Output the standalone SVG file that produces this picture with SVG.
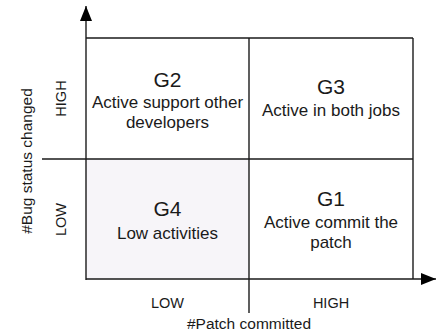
<svg xmlns="http://www.w3.org/2000/svg" width="437" height="334" viewBox="0 0 437 334">
<defs>
<style>
.ln{stroke:#1a1a1a;stroke-width:1.4;fill:none}
.t{font-family:"Liberation Sans",Arial,Helvetica,sans-serif;fill:#1a1a1a;text-anchor:middle}
.g{font-size:21px}
.b{font-size:17px}
.a{font-size:14.5px}
.ax{font-size:15.5px}
</style>
<marker id="ah" markerWidth="16" markerHeight="12" refX="15" refY="6" orient="auto" markerUnits="userSpaceOnUse">
<path d="M0,0 L15,6 L0,12 Z" fill="#000"/>
</marker>
</defs>
<rect id="bg" x="0" y="0" width="437" height="334" fill="#fff"/>
<g id="G2">
<rect x="86" y="38" width="163" height="121" fill="#fff"/>
<text class="t g" x="167.5" y="87">G2</text>
<text class="t b" x="167.5" y="108">Active support other</text>
<text class="t b" x="167.5" y="128">developers</text>
</g>
<g id="G3">
<rect x="249" y="38" width="164" height="121" fill="#fff"/>
<text class="t g" x="331" y="94">G3</text>
<text class="t b" x="331" y="116">Active in both jobs</text>
</g>
<g id="G4">
<rect x="86" y="159" width="163" height="120" fill="#f7f5f9"/>
<text class="t g" x="167.5" y="216">G4</text>
<text class="t b" x="167.5" y="239">Low activities</text>
</g>
<g id="G1">
<rect x="249" y="159" width="164" height="120" fill="#fff"/>
<text class="t g" x="331" y="206">G1</text>
<text class="t b" x="331" y="228">Active commit the</text>
<text class="t b" x="331" y="248">patch</text>
</g>
<g id="connectors">
<line class="ln" x1="86" y1="38" x2="413" y2="38"/>
<line class="ln" x1="413" y1="38" x2="413" y2="279"/>
<line class="ln" x1="42" y1="159" x2="413" y2="159"/>
<line class="ln" x1="249" y1="38" x2="249" y2="313"/>
<line class="ln" x1="86" y1="280" x2="86" y2="6" marker-end="url(#ah)"/>
<line class="ln" x1="86" y1="279" x2="436" y2="279" marker-end="url(#ah)"/>
</g>
<g id="labels">
<text class="t a" transform="translate(66,98.5) rotate(-90)">HIGH</text>
<text class="t a" transform="translate(66,219.5) rotate(-90)">LOW</text>
<text class="t ax" transform="translate(31.5,161) rotate(-90)">#Bug status changed</text>
<text class="t a" x="167.5" y="308">LOW</text>
<text class="t a" x="331" y="308">HIGH</text>
<text class="t ax" x="249" y="329">#Patch committed</text>
</g>
</svg>
